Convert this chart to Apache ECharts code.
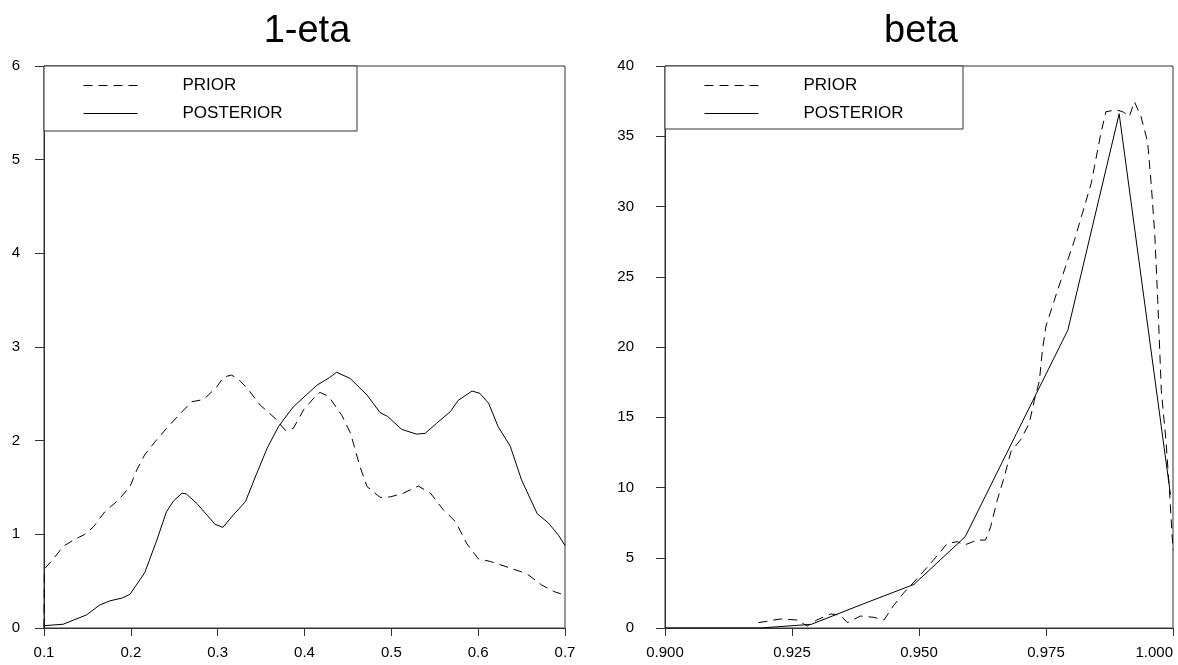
<!DOCTYPE html>
<html>
<head>
<meta charset="utf-8">
<title>1-eta / beta densities</title>
<script src="https://cdn.jsdelivr.net/npm/echarts@6/dist/echarts.min.js"></script>
<style>
  html, body { margin: 0; padding: 0; background: #ffffff; }
  #chart { width: 1178px; height: 665px; }
</style>
</head>
<body>
<div id="chart"></div>
<script>
// Panel titles and series names
const panelTitles = ['1-eta', 'beta'];
const seriesNames = ['PRIOR', 'POSTERIOR'];

// Axis tick settings
const etaTicks = { min: 0.1, max: 0.7, interval: 0.1 };
const etaDensityTicks = { min: 0, max: 6, interval: 1 };
const betaTicks = { min: 0.9, max: 1.0, interval: 0.025 };
const betaDensityTicks = { min: 0, max: 40, interval: 5 };

// 1-eta: prior density [x, density]
const etaPrior = [
  [0.1, 0.0], [0.1005, 0.63], [0.111, 0.74], [0.122, 0.87], [0.134, 0.94], [0.147, 1.0],
  [0.157, 1.08], [0.170, 1.24], [0.186, 1.37], [0.199, 1.51], [0.207, 1.69], [0.216, 1.85],
  [0.228, 1.99], [0.241, 2.13], [0.257, 2.29], [0.270, 2.415], [0.284, 2.44], [0.299, 2.575],
  [0.307, 2.68], [0.316, 2.70], [0.324, 2.655], [0.334, 2.56], [0.349, 2.38], [0.366, 2.24],
  [0.378, 2.11], [0.387, 2.13], [0.399, 2.33], [0.414, 2.49], [0.418, 2.515], [0.428, 2.47],
  [0.443, 2.27], [0.453, 2.08], [0.464, 1.72], [0.472, 1.51], [0.487, 1.395], [0.499, 1.40],
  [0.514, 1.44], [0.531, 1.515], [0.545, 1.44], [0.560, 1.26], [0.574, 1.135], [0.587, 0.90],
  [0.600, 0.74], [0.614, 0.71], [0.637, 0.64], [0.656, 0.58], [0.673, 0.46], [0.687, 0.39],
  [0.700, 0.35]
];

// 1-eta: posterior density [x, density]
const etaPosterior = [
  [0.1, 0.025], [0.122, 0.04], [0.149, 0.14], [0.164, 0.245], [0.176, 0.29], [0.190, 0.32],
  [0.199, 0.36], [0.216, 0.59], [0.230, 0.94], [0.241, 1.24], [0.249, 1.355], [0.259, 1.44],
  [0.264, 1.43], [0.276, 1.33], [0.297, 1.107], [0.306, 1.075], [0.318, 1.206], [0.332, 1.35],
  [0.345, 1.65], [0.357, 1.92], [0.370, 2.15], [0.387, 2.36], [0.414, 2.59], [0.429, 2.675],
  [0.437, 2.73], [0.4525, 2.665], [0.472, 2.487], [0.487, 2.30], [0.4955, 2.26], [0.512, 2.12],
  [0.529, 2.07], [0.539, 2.078], [0.552, 2.185], [0.568, 2.31], [0.577, 2.43], [0.593, 2.53],
  [0.602, 2.505], [0.612, 2.40], [0.623, 2.15], [0.637, 1.94], [0.650, 1.58], [0.668, 1.22],
  [0.681, 1.12], [0.6925, 0.99], [0.700, 0.88]
];

// beta: prior density [x, density]
const betaPrior = [
  [0.9184, 0.38], [0.9227, 0.64], [0.926, 0.57], [0.928, 0.14], [0.9299, 0.57], [0.9326, 1.0],
  [0.9345, 0.92], [0.9359, 0.38], [0.9385, 0.85], [0.9411, 0.76], [0.9431, 0.57], [0.945, 1.6],
  [0.947, 2.5], [0.9497, 3.54], [0.953, 4.9], [0.9556, 6.03], [0.9576, 6.14], [0.9589, 5.9],
  [0.9615, 6.26], [0.9631, 6.26], [0.9641, 7.2], [0.9654, 9.1], [0.9668, 10.77], [0.9681, 12.55],
  [0.970, 13.4], [0.9717, 14.57], [0.9727, 16.2], [0.9737, 17.6], [0.9743, 19.8], [0.975, 21.5],
  [0.9773, 24.06], [0.9806, 27.6], [0.9839, 31.65], [0.9858, 35.2], [0.9868, 36.75], [0.9888, 36.87],
  [0.9901, 36.75], [0.9914, 36.4], [0.9924, 37.46], [0.9937, 36.4], [0.995, 34.6], [0.9957, 31.65],
  [0.9964, 28.1], [0.997, 23.3], [0.9977, 16.9], [0.9986, 13.4], [0.9993, 9.8], [1.0, 5.55]
];

// beta: posterior density [x, density]
const betaPosterior = [
  [0.9, 0], [0.9187, 0], [0.9288, 0.26], [0.9389, 1.7], [0.949, 3.1], [0.9591, 6.5],
  [0.9692, 13.85], [0.9793, 21.2], [0.9894, 36.6], [0.9995, 9.5]
];

const FONT = '"Liberation Sans", Arial, sans-serif';
const AXIS_COLOR = '#333';
const DASH = [9, 6];

function xAxisFor(gridIndex, ticks, digits) {
  return {
    type: 'value', gridIndex, min: ticks.min, max: ticks.max, interval: ticks.interval,
    axisLine: { show: true, onZero: false, lineStyle: { color: AXIS_COLOR, width: 1 } },
    axisTick: { show: true, inside: false, length: 8, lineStyle: { color: AXIS_COLOR } },
    splitLine: { show: false },
    axisLabel: {
      color: '#000', fontFamily: FONT, fontSize: 15, margin: 17,
      formatter: v => v.toFixed(digits),
      alignMaxLabel: gridIndex === 1 ? 'right' : 'center'
    }
  };
}

function yAxisFor(gridIndex, ticks, margin) {
  return {
    type: 'value', gridIndex, min: ticks.min, max: ticks.max, interval: ticks.interval,
    axisLine: { show: true, lineStyle: { color: AXIS_COLOR, width: 1 } },
    axisTick: { show: true, inside: false, length: 9, lineStyle: { color: AXIS_COLOR } },
    splitLine: { show: false },
    axisLabel: { color: '#000', fontFamily: FONT, fontSize: 15, margin }
  };
}

function curve(name, data, idx, dashed) {
  return {
    name, type: 'line', data, xAxisIndex: idx, yAxisIndex: idx,
    symbol: 'none', smooth: false, silent: true, animation: false,
    lineStyle: { color: '#000', width: 1, type: dashed ? DASH : 'solid' },
    itemStyle: { color: '#000' }
  };
}

// legend frames (one per panel)
const legendFrames = [
  { x: 44, y: 66, w: 313, h: 65 },
  { x: 665, y: 66, w: 298, h: 63 }
];

function legendFor(frame) {
  return {
    orient: 'vertical', left: frame.x, top: frame.y, z: 10,
    padding: [11, 0, 0, 39], itemWidth: 54, itemHeight: 20, itemGap: 11,
    data: seriesNames, selectedMode: false,
    itemStyle: { opacity: 0 },
    lineStyle: { color: '#000', width: 1 },
    formatter: n => '{t|' + n + '}',
    textStyle: {
      color: '#000', fontFamily: FONT, fontSize: 17,
      rich: { t: { fontFamily: FONT, fontSize: 17, color: '#000', padding: [0, 0, 0, 40] } }
    }
  };
}

const chart = echarts.init(document.getElementById('chart'), null, { renderer: 'canvas' });

chart.setOption({
  backgroundColor: '#ffffff',
  animation: false,
  title: [
    { text: panelTitles[0], left: 302, top: 8, textAlign: 'center',
      textStyle: { fontFamily: FONT, fontSize: 38, fontWeight: 'normal', color: '#000' } },
    { text: panelTitles[1], left: 916, top: 8, textAlign: 'center',
      textStyle: { fontFamily: FONT, fontSize: 38, fontWeight: 'normal', color: '#000' } }
  ],
  grid: [
    { left: 44, right: 613, top: 66, bottom: 37, show: true, borderColor: AXIS_COLOR, borderWidth: 1, backgroundColor: 'transparent' },
    { left: 665, right: 5, top: 66, bottom: 37, show: true, borderColor: AXIS_COLOR, borderWidth: 1, backgroundColor: 'transparent' }
  ],
  xAxis: [xAxisFor(0, etaTicks, 1), xAxisFor(1, betaTicks, 3)],
  yAxis: [yAxisFor(0, etaDensityTicks, 24), yAxisFor(1, betaDensityTicks, 31)],
  graphic: legendFrames.map(f => ({
    type: 'rect', shape: { x: f.x, y: f.y, width: f.w, height: f.h },
    style: { fill: '#fff', stroke: AXIS_COLOR, lineWidth: 1 }, z: 1, silent: true
  })),
  legend: legendFrames.map(legendFor),
  series: [
    curve(seriesNames[0], etaPrior, 0, true),
    curve(seriesNames[1], etaPosterior, 0, false),
    curve(seriesNames[0], betaPrior, 1, true),
    curve(seriesNames[1], betaPosterior, 1, false)
  ]
});
</script>
</body>
</html>
